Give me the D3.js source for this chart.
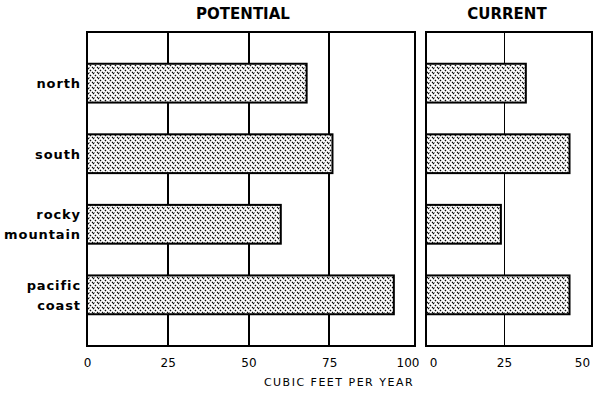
<!DOCTYPE html>
<html>
<head>
<meta charset="utf-8">
<script src="https://cdn.jsdelivr.net/npm/d3@7"></script>
<style>
  body { margin: 0; background: #fff; }
  text { font-family: "DejaVu Sans", sans-serif; fill: #000; }
</style>
</head>
<body>
<div id="chart"></div>
<script>
// data
const regions = ['north', 'south', 'rocky mountain', 'pacific coast'];
const potential = [68, 76, 60, 95];
const current = [32, 46, 24, 46];
const potentialTicks = [0, 25, 50, 75, 100];
const currentTicks = [0, 25, 50];

const svg = d3.select('#chart')
    .append('svg')
    .attr('width', 599)
    .attr('height', 399);

// hatched fill like the print: dashed diagonal strokes
const defs = svg.append('defs');
const pat = defs.append('pattern')
    .attr('id', 'hatch')
    .attr('patternUnits', 'userSpaceOnUse')
    .attr('width', 5)
    .attr('height', 5);
pat.append('rect').attr('width', 5).attr('height', 5).attr('fill', '#fff');
pat.append('path')
    .attr('d', 'M-1,-1 L6,6 M-1,4 L1,6 M4,-1 L6,1')
    .attr('stroke', '#000')
    .attr('stroke-width', 1.1)
    .attr('stroke-dasharray', '3,1.2');
pat.append('rect').attr('x', 4).attr('y', 2).attr('width', 0.8).attr('height', 0.8).attr('fill', '#555');

const plotTop = 32, plotBottom = 346;

const y = d3.scaleBand()
    .domain(regions)
    .range([plotTop, plotBottom])
    .padding(0.45);

function panel(values, xScale, frameRight, gridWidth, title, titleX, ticks, zeroShift, lastAnchorEnd) {
    const g = svg.append('g');
    const x0 = xScale.range()[0];
    const maxV = xScale.domain()[1];

    // gridlines behind bars (inner ticks only)
    g.selectAll('line.grid')
        .data(ticks.filter(t => t > 0 && t < maxV))
        .enter().append('line')
        .attr('class', 'grid')
        .attr('x1', d => Math.round(xScale(d)) + (gridWidth === 1 ? 0.5 : 0))
        .attr('x2', d => Math.round(xScale(d)) + (gridWidth === 1 ? 0.5 : 0))
        .attr('y1', plotTop).attr('y2', plotBottom)
        .attr('stroke', '#000')
        .attr('stroke-width', gridWidth);

    // bars
    g.selectAll('rect.bar')
        .data(values)
        .enter().append('rect')
        .attr('class', 'bar')
        .attr('x', x0)
        .attr('y', (d, i) => y(regions[i]))
        .attr('width', d => xScale(d) - x0)
        .attr('height', y.bandwidth())
        .attr('fill', 'url(#hatch)')
        .attr('stroke', '#000')
        .attr('stroke-width', 2);

    // frame
    g.append('rect')
        .attr('x', x0)
        .attr('y', plotTop)
        .attr('width', frameRight - x0)
        .attr('height', plotBottom - plotTop)
        .attr('fill', 'none')
        .attr('stroke', '#000')
        .attr('stroke-width', 2);

    // tick labels
    const axis = d3.axisBottom(xScale).tickValues(ticks).tickSize(0).tickPadding(0);
    const ax = g.append('g')
        .attr('transform', `translate(0, ${plotBottom + 21})`)
        .call(axis);
    ax.select('.domain').remove();
    ax.selectAll('text')
        .attr('dy', 0)
        .style('font-size', '12px')
        .style('font-family', '"DejaVu Sans", sans-serif')
        .attr('text-anchor', (d, i) => (lastAnchorEnd && i === ticks.length - 1) ? 'end' : 'middle')
        .attr('x', (d, i) => {
            if (lastAnchorEnd && i === ticks.length - 1) return frameRight + 4 - xScale(d);
            if (i === 0) return zeroShift;
            return 0;
        });

    // title
    g.append('text')
        .attr('x', titleX)
        .attr('y', 19)
        .attr('text-anchor', 'middle')
        .style('font-size', '15px')
        .style('font-weight', 'bold')
        .text(title);
}

const xPot = d3.scaleLinear().domain([0, 100]).range([87, 410]);
const xCur = d3.scaleLinear().domain([0, 50]).range([426, 582]);

panel(potential, xPot, 415, 2, 'POTENTIAL', 243, potentialTicks, 0, true);
panel(current, xCur, 592, 1, 'CURRENT', 507, currentTicks, 7, false);

// category labels
svg.append('g').selectAll('text')
    .data(regions)
    .enter().append('text')
    .attr('x', 81)
    .attr('text-anchor', 'end')
    .style('font-size', '13px')
    .style('font-weight', 'bold')
    .style('letter-spacing', '0.9px')
    .each(function (d) {
        const words = d.split(' ');
        const cy = y(d) + y.bandwidth() / 2;
        const t = d3.select(this);
        words.forEach((w, i) => {
            t.append('tspan')
                .attr('x', 81)
                .attr('y', cy + 5 + (i - (words.length - 1) / 2) * 20)
                .text(w);
        });
    });

// axis title
svg.append('text')
    .attr('x', 339)
    .attr('y', 386)
    .attr('text-anchor', 'middle')
    .style('font-size', '11px')
    .style('letter-spacing', '1.5px')
    .text('CUBIC FEET PER YEAR');
</script>
</body>
</html>
